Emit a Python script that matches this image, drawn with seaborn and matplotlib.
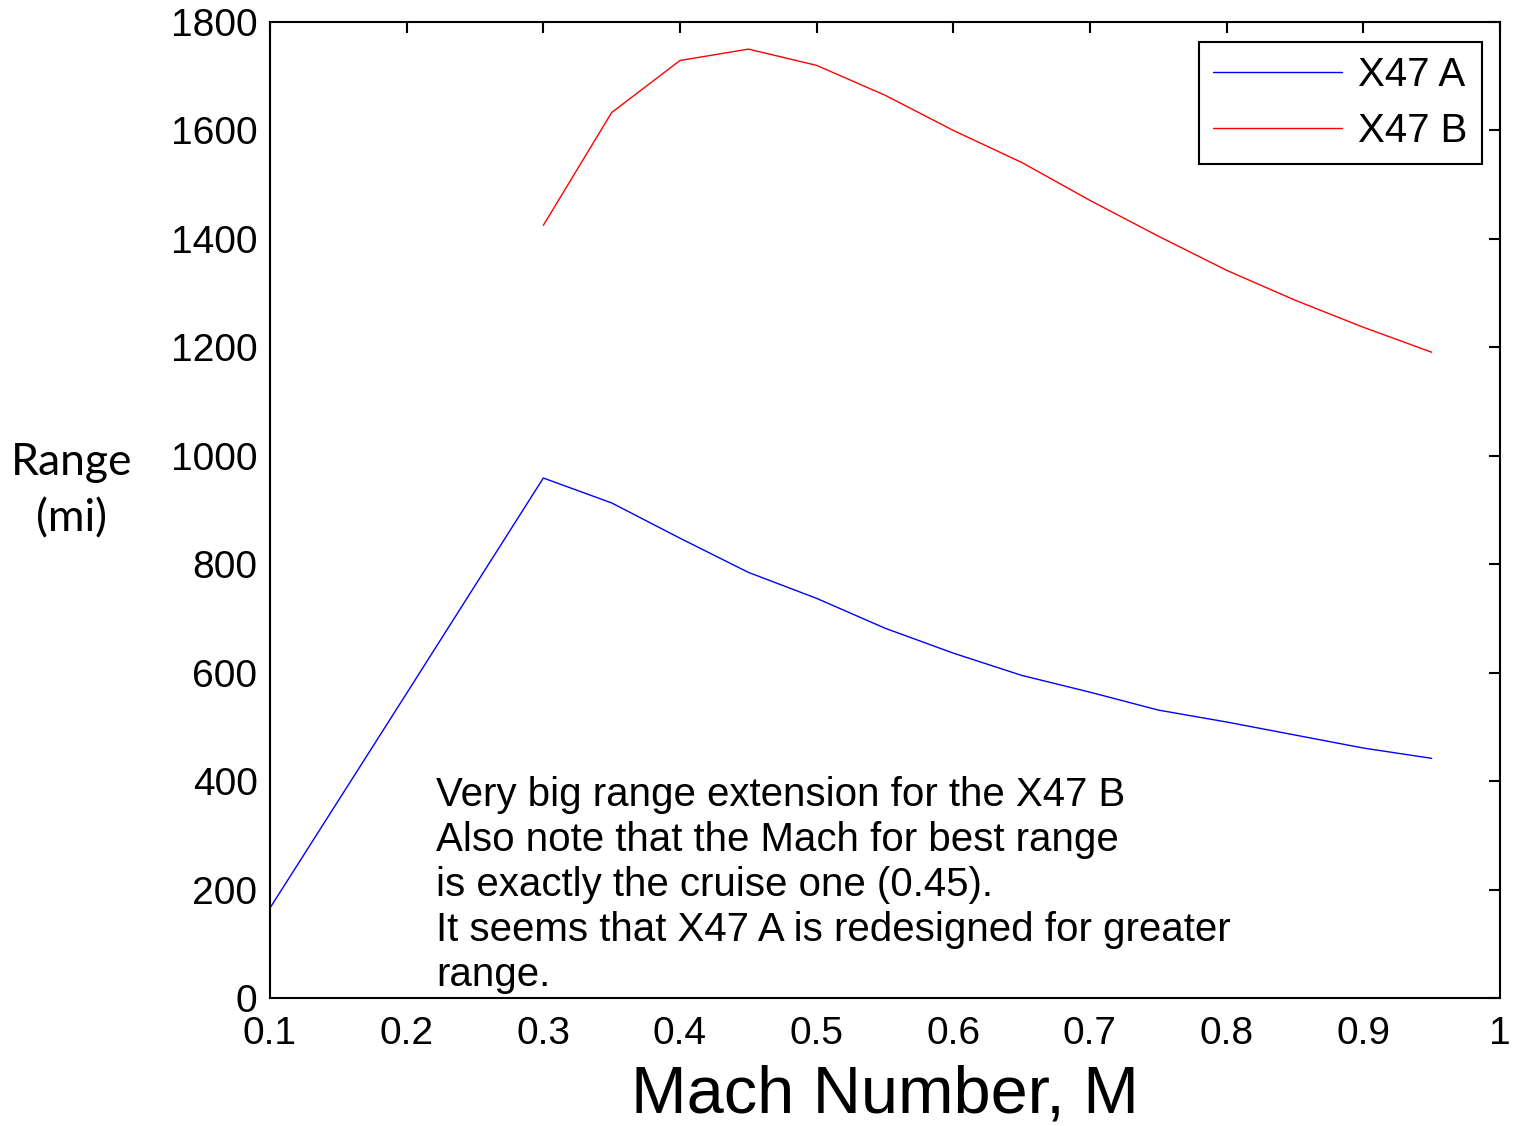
import matplotlib
matplotlib.use("Agg")
import matplotlib.pyplot as plt
import seaborn as sns
import pandas as pd

mach_a = [0.1, 0.2, 0.3, 0.35, 0.4, 0.45, 0.5, 0.55, 0.6, 0.65, 0.7, 0.75, 0.8, 0.85, 0.9, 0.95]
range_a = [166, 562, 959, 913, 848, 785, 737, 682, 636, 595, 564, 531, 509, 485, 461, 442]
mach_b = [0.3, 0.35, 0.4, 0.45, 0.5, 0.55, 0.6, 0.65, 0.7, 0.75, 0.8, 0.85, 0.9, 0.95]
range_b = [1425, 1633, 1729, 1750, 1720, 1665, 1600, 1541, 1471, 1405, 1342, 1287, 1237, 1191]
series_names = ["X47 A", "X47 B"]
xticks = [0.1, 0.2, 0.3, 0.4, 0.5, 0.6, 0.7, 0.8, 0.9, 1.0]
xtick_labels = ["0.1", "0.2", "0.3", "0.4", "0.5", "0.6", "0.7", "0.8", "0.9", "1"]
yticks = [0, 200, 400, 600, 800, 1000, 1200, 1400, 1600, 1800]
note = ("Very big range extension for the X47 B\n"
        "Also note that the Mach for best range\n"
        "is exactly the cruise one (0.45).\n"
        "It seems that X47 A is redesigned for greater\n"
        "range.")

df = pd.concat([
    pd.DataFrame({"Mach": mach_a, "Range": range_a, "Series": series_names[0]}),
    pd.DataFrame({"Mach": mach_b, "Range": range_b, "Series": series_names[1]}),
])

sns.set_theme(style="white")
plt.rcParams["font.family"] = ["Liberation Sans", "DejaVu Sans"]
plt.rcParams["text.color"] = "black"
plt.rcParams["axes.labelcolor"] = "black"

fig = plt.figure(figsize=(15.13, 11.26), dpi=100)
ax = fig.add_axes([270/1513, 1 - 998/1126, (1500-270)/1513, (998-22)/1126])

sns.lineplot(data=df, x="Mach", y="Range", hue="Series",
             palette={"X47 A": "#0000ff", "X47 B": "#ff0000"},
             linewidth=1.0, ax=ax, sort=False)

ax.set_xlim(0.1, 1.0)
ax.set_ylim(0, 1800)
ax.set_xticks(xticks)
ax.set_xticklabels(xtick_labels)
ax.set_yticks(yticks)
ax.tick_params(axis="both", direction="in", length=8, width=1.5, colors="black",
               labelsize=28, top=True, right=True)
ax.tick_params(axis="x", pad=13)
ax.tick_params(axis="y", pad=9)
for s in ax.spines.values():
    s.set_color("black")
    s.set_linewidth(1.5)

ax.set_xlabel("Mach Number, M", fontsize=48, labelpad=9)
ax.set_ylabel("")
fig.text(72/1513, 1 - 491/1126, "Range\n(mi)", fontsize=32, ha="center", va="center",
         family=["Lato", "DejaVu Sans"], linespacing=1.45, color="black")

ax.text(0.2215, 410, note, fontsize=29, ha="left", va="top", linespacing=1.24,
        color="black")

leg = ax.legend(loc="upper right", fontsize=29, frameon=True, fancybox=False,
                edgecolor="black", handlelength=3.2, borderpad=0.35,
                handletextpad=0.4, bbox_to_anchor=(0.985, 0.9795),
                borderaxespad=0, labelspacing=0.45)
leg.get_frame().set_linewidth(1.5)
leg.get_frame().set_alpha(1)
for t in leg.get_texts():
    t.set_color("black")

fig.savefig("out.png", dpi=100)
